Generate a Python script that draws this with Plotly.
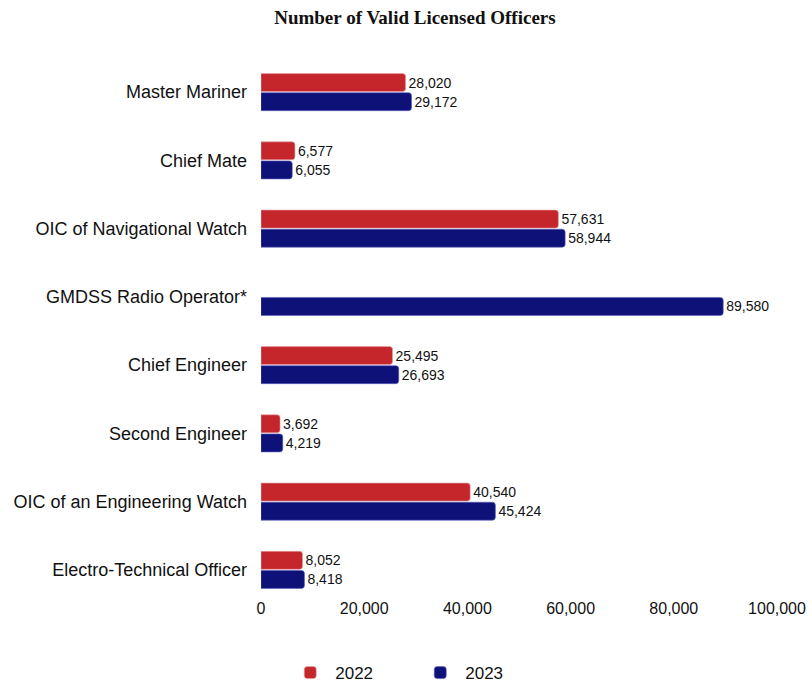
import plotly.graph_objects as go

categories = ["Master Mariner", "Chief Mate", "OIC of Navigational Watch", "GMDSS Radio Operator*",
              "Chief Engineer", "Second Engineer", "OIC of an Engineering Watch", "Electro-Technical Officer"]
values_2022 = [28020, 6577, 57631, None, 25495, 3692, 40540, 8052]
values_2023 = [29172, 6055, 58944, 89580, 26693, 4219, 45424, 8418]
x_ticks = [0, 20000, 40000, 60000, 80000, 100000]

RED = "#C4262B"
BLUE = "#0E1278"
LABEL_FONT = dict(size=14, color="#111", family="Liberation Sans, Arial")

fig = go.Figure()
fig.add_trace(go.Bar(
    name="2022", y=categories, x=values_2022, orientation="h",
    marker=dict(color=RED, line=dict(color="#E8A0A2", width=0.6)),
    text=[None if v is None else f"{v:,}" for v in values_2022],
    textposition="outside", textfont=LABEL_FONT, cliponaxis=False,
))
fig.add_trace(go.Bar(
    name="2023", y=categories, x=values_2023, orientation="h",
    marker=dict(color=BLUE, line=dict(color="#5A5EC0", width=0.6)),
    text=[f"{v:,}" for v in values_2023],
    textposition="outside", textfont=LABEL_FONT, cliponaxis=False,
))

fig.update_layout(
    width=812, height=686,
    paper_bgcolor="white", plot_bgcolor="white",
    margin=dict(l=261, r=35, t=58, b=82, autoexpand=False),
    barmode="group", bargap=0.44, bargroupgap=0.06, barcornerradius=3,
    title=dict(text="<b>Number of Valid Licensed Officers</b>", x=0.511, xanchor="center",
               y=1 - 17 / 686, yanchor="middle",
               font=dict(family="Liberation Serif, Times New Roman, serif", size=19, color="#111")),
    font=dict(family="Liberation Sans, Arial, sans-serif", color="#111"),
    xaxis=dict(range=[0, 100000], tickvals=x_ticks, tickformat=",", showgrid=False,
               zeroline=False, showline=False, ticks="", tickfont=dict(size=16),
               ticklabelstandoff=-7, automargin=False),
    yaxis=dict(autorange="reversed", showgrid=False, showline=False, ticks="",
               tickfont=dict(size=18), ticklabelstandoff=13, automargin=False),
    legend=dict(orientation="h", x=0.047, xanchor="left", y=-0.1265, yanchor="middle",
                font=dict(size=17), itemwidth=40, traceorder="normal", entrywidth=75),
    showlegend=True,
)

fig.write_html("out.html", config={"displayModeBar": False},
               post_script="document.body.style.margin='0';")
